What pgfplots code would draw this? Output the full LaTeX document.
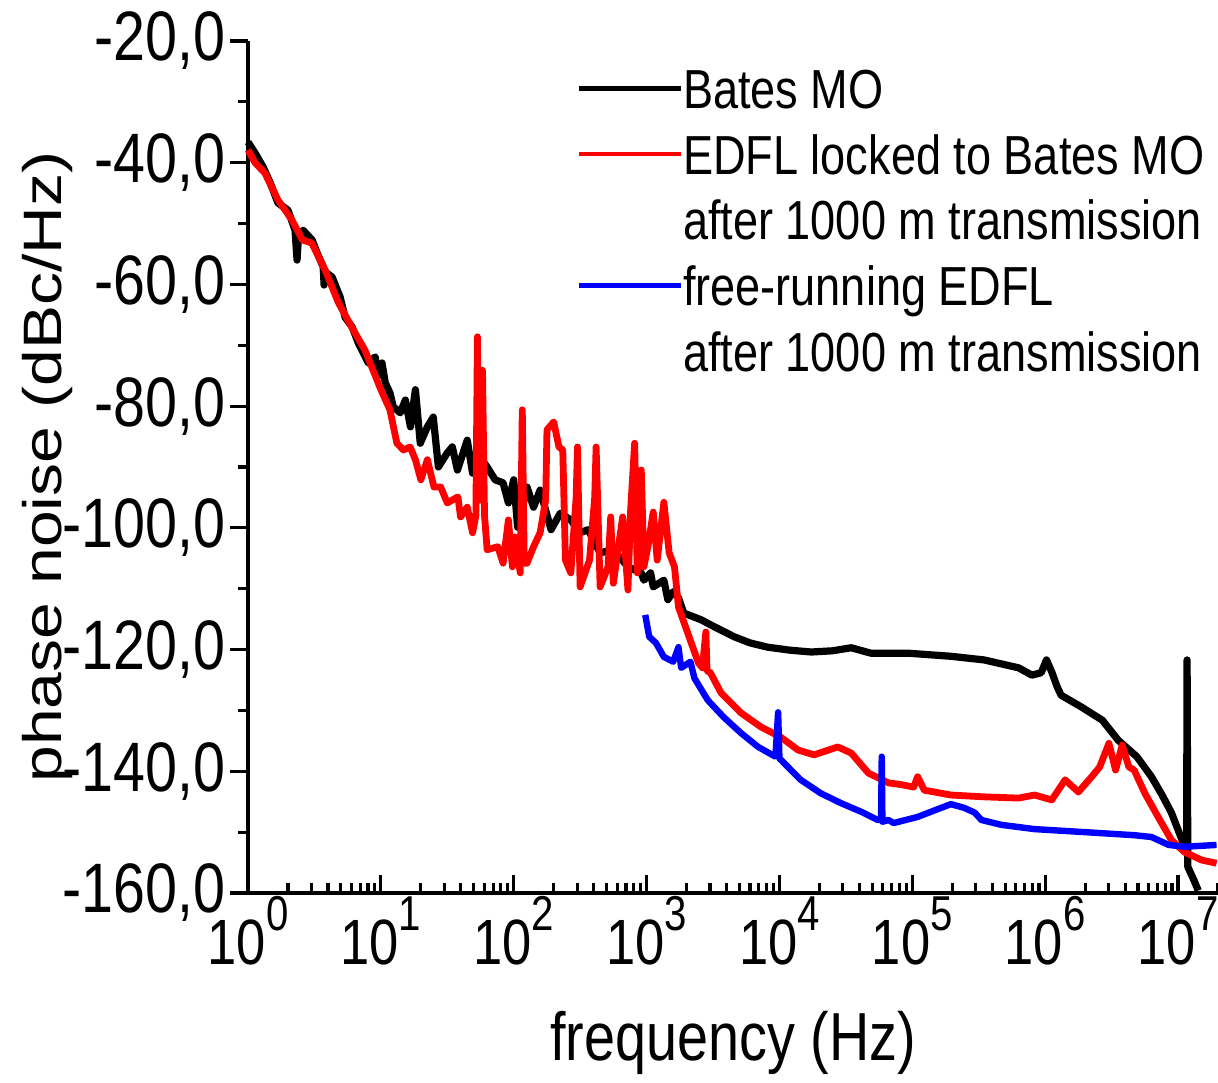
\documentclass[border=0pt]{standalone}
\usepackage{fontspec}
\usepackage{graphicx}
\setmainfont[FakeStretch=0.82]{Liberation Sans}
\newfontfamily\plainfont{Liberation Sans}
\usepackage{pgfplots}
\pgfplotsset{compat=1.18}
\newcommand{\tl}[1]{10\smash{\raisebox{17pt}{\fontsize{24.5}{26}\selectfont #1}}}
\begin{document}
\begin{tikzpicture}
\begin{axis}[
  scale only axis, width=485pt, height=426pt,
  xmode=log, xmin=1, xmax=2e7, ymin=-160, ymax=-20,
  clip=false,
  axis lines*=left,
  axis line style={line width=1.8pt,-},
  xtick align=center, ytick align=outside,
  every x tick/.style={black,line width=1.6pt},
  every major x tick/.append style={yshift=4.5pt},
  every minor x tick/.append style={yshift=2.5pt},
  every y tick/.style={black,line width=1.6pt},
  major tick length=9pt, minor tick length=5pt,
  xtick={1,10,100,1000,10000,100000,1000000,10000000},
  xticklabels={{\tl{0}},{\tl{1}},{\tl{2}},{\tl{3}},{\tl{4}},{\tl{5}},{\tl{6}},{\tl{7}}},
  minor xtick={2,3,4,5,6,7,8,9,20,30,40,50,60,70,80,90,200,300,400,500,600,700,800,900,
    2000,3000,4000,5000,6000,7000,8000,9000,20000,30000,40000,50000,60000,70000,80000,90000,
    200000,300000,400000,500000,600000,700000,800000,900000,
    2000000,3000000,4000000,5000000,6000000,7000000,8000000,9000000,20000000},
  ytick={-160,-140,-120,-100,-80,-60,-40,-20},
  yticklabels={{-160,0},{-140,0},{-120,0},{-100,0},{-80,0},{-60,0},{-40,0},{-20,0}},
  minor y tick num=1,
  xticklabel style={font=\fontsize{32}{36}\selectfont, anchor=base, yshift=-31pt, inner sep=0pt},
  yticklabel style={font=\fontsize{35}{40}\selectfont, anchor=east, inner sep=0pt, xshift=-2pt},
  xlabel={frequency (Hz)},
  ylabel={\plainfont\scalebox{1}[0.82]{phase noise (dBc/Hz)}},
  xlabel style={font=\fontsize{34}{38}\selectfont, at={(axis description cs:0.5,0)}, anchor=base, yshift=-83.5pt},
  ylabel style={font=\fontsize{33}{38}\selectfont, at={(axis description cs:-0.192,0.5)}, anchor=base, rotate=0},
  legend style={draw=none, fill=none, at={(0.338,0.9685)}, anchor=north west, inner sep=0pt,
    font=\fontsize{27.5}{30}\selectfont, row sep=6.9pt,
    cells={anchor=base west},
    nodes={inner sep=0pt, text height=20pt, text depth=6pt},
    /tikz/every even column/.append style={column sep=7pt}},
  legend image code/.code={\draw[#1,line width=2.4pt] (0pt,10pt) -- (51pt,10pt);},
]
% Bates MO
\addplot[black, line width=3.6pt, line join=round, forget plot] table {
1 -36.6
1.13 -38.4
1.30 -40.7
1.47 -43.3
1.68 -46.6
2.0 -47.8
2.26 -51.1
2.34 -56.0
2.40 -52.0
2.60 -51.1
3.04 -52.7
3.31 -54.8
3.68 -57.1
3.74 -60.1
3.85 -58.0
4.30 -58.8
4.94 -62.1
5.38 -65.4
6.08 -67.0
6.76 -69.6
8.04 -72.9
9.08 -71.9
9.40 -75.2
10.2 -72.9
10.8 -76.2
11.7 -77.8
12.4 -80.1
14.0 -81.1
15.3 -79.0
16.7 -83.4
18.2 -77.3
19.8 -86.1
22.4 -83.4
24.8 -81.8
27.1 -90.0
31.6 -87.7
34.5 -86.7
37.7 -90.5
44.7 -85.6
49.0 -91.0
56.2 -88.5
63.1 -90.0
72.4 -92.1
83.2 -92.6
91.2 -95.9
100 -92.1
107 -99.9
126 -93.3
141 -96.6
158 -93.8
191 -100.3
224 -97.6
269 -98.7
316 -100.8
363 -100.3
447 -104.1
562 -103.6
724 -106.4
912 -107.4
955 -108.6
1072 -107.4
1122 -109.7
1349 -108.6
1445 -111.8
1585 -110.5
1738 -111.5
1905 -114.0
2570 -115.1
3200 -116.2
4571 -117.9
6000 -118.9
8128 -119.6
12000 -120.1
17378 -120.4
25119 -120.2
34674 -119.7
48978 -120.6
93325 -120.6
194984 -121.1
346737 -121.7
630957 -123.0
794328 -124.2
933254 -123.8
1023000 -121.7
1122000 -123.7
1230000 -126.1
1318000 -127.5
1862000 -129.4
2692000 -131.6
3548000 -134.9
4898000 -137.6
6310000 -140.9
7586000 -143.9
8913000 -146.8
10720000 -151.3
11400000 -153.0
11600000 -153.2
11700000 -121.7
11850000 -155.7
13180000 -157.9
14200000 -159.6
};
% EDFL locked
\addplot[red, line width=3.4pt, line join=round, forget plot] table {
1 -37.9
1.13 -40.0
1.34 -41.7
1.68 -46.1
2.14 -49.4
2.57 -52.7
3.02 -53.2
3.80 -57.6
4.79 -63.0
6.03 -67.0
7.59 -70.8
9.55 -76.2
10 -77.3
11.7 -80.6
13.2 -86.1
14.8 -87.2
16.6 -86.7
18.2 -88.8
20.0 -92.1
22.4 -88.8
25.1 -93.3
28.2 -93.3
31.6 -95.9
38.0 -94.9
39.8 -98.2
44.7 -96.6
49.0 -100.8
51.9 -98.0
53.3 -68.6
55.0 -95.4
56.5 -95.4
58.2 -74.1
60.3 -98.0
63.1 -103.6
75.9 -103.1
83.2 -105.8
91.2 -98.7
97.7 -106.4
102 -101.5
112 -107.4
116 -80.6
120 -105.8
126 -105.8
141 -103.1
158 -100.8
174 -95.4
178 -83.9
200 -82.6
219 -86.7
234 -87.2
245 -105.3
269 -107.4
295 -95.0
302 -86.7
316 -109.7
372 -105.3
407 -95.0
417 -86.7
447 -109.7
513 -106.4
537 -98.2
562 -109.1
661 -98.2
724 -110.2
759 -97.0
813 -86.1
851 -107.4
912 -90.5
955 -106.4
1023 -103.1
1122 -97.4
1202 -105.3
1349 -95.8
1479 -104.1
1622 -106.4
1738 -113.0
2042 -117.3
2455 -122.2
2630 -123.0
2793 -117.1
2851 -123.5
3020 -123.8
3631 -127.1
5129 -130.4
7244 -132.7
10233 -134.4
13804 -136.5
18197 -137.3
27542 -136.0
34674 -137.0
46774 -140.3
66069 -141.9
83176 -142.2
102329 -142.6
109648 -140.9
123027 -143.1
194984 -143.9
346737 -144.2
630957 -144.4
831764 -143.9
1122000 -144.7
1413000 -141.4
1778000 -143.4
2239000 -140.9
2570000 -139.3
3020000 -135.4
3388000 -139.8
3802000 -135.7
4266000 -139.3
4677000 -139.8
5623000 -143.6
7079000 -147.5
8913000 -151.3
11220000 -153.3
15140000 -154.6
19500000 -155.1
};
% free-running EDFL
\addplot[blue, line width=3.2pt, line join=round, forget plot] table {
977 -114.3
1047 -117.9
1175 -118.9
1349 -121.2
1585 -122.0
1738 -119.6
1820 -123.0
2138 -122.0
2291 -124.7
2884 -128.3
3802 -131.1
5129 -133.7
6918 -136.0
9333 -137.6
9772 -130.3
10000 -137.9
10233 -138.1
14454 -141.4
20417 -143.6
28840 -145.2
41687 -146.7
54954 -148.0
58210 -148.0
58884 -137.6
59566 -148.3
66069 -148.0
72444 -148.5
109648 -147.5
147911 -146.4
194984 -145.4
245471 -146.0
295121 -146.8
331131 -148.0
467735 -148.8
831764 -149.5
1995000 -150.0
4677000 -150.5
6310000 -150.8
8511000 -152.1
11220000 -152.4
19500000 -152.1
};
\addlegendimage{black}
\addlegendentry{Bates MO}
\addlegendimage{red}
\addlegendentry{EDFL locked to Bates MO}
\addlegendimage{empty legend}
\addlegendentry{after 1000 m transmission}
\addlegendimage{blue}
\addlegendentry{free-running EDFL}
\addlegendimage{empty legend}
\addlegendentry{after 1000 m transmission}
\end{axis}
\pgfresetboundingbox
\useasboundingbox (-124pt,-94.5pt) rectangle (485pt,446.5pt);
\end{tikzpicture}
\end{document}
